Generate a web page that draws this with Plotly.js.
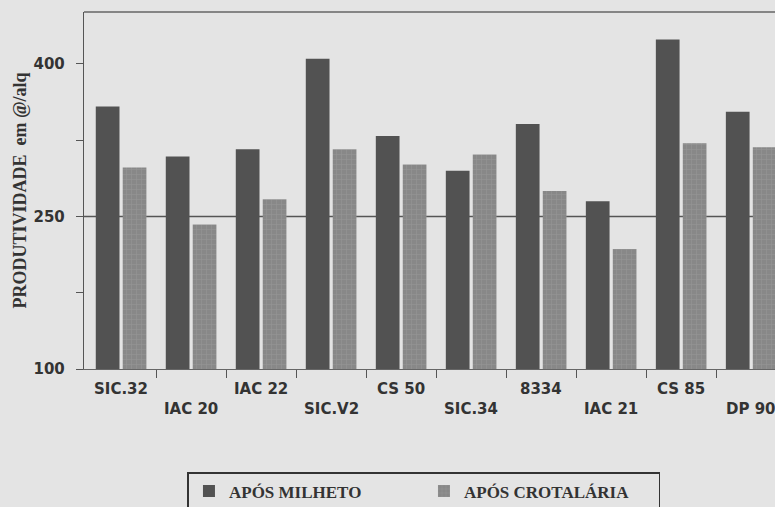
<!DOCTYPE html>
<html>
<head>
<meta charset="utf-8">
<script src="https://cdn.plot.ly/plotly-3.0.1.min.js"></script>
<style>html,body{margin:0;padding:0;background:#e4e4e4;}#chart{width:775px;height:507px;}</style>
</head>
<body>
<div id="chart"></div>
<script>
const categories = ["SIC.32","IAC 20","IAC 22","SIC.V2","CS 50","SIC.34","8334","IAC 21","CS 85","DP 90"];
const aposMilheto = [358, 309, 316, 405, 329, 295, 341, 265, 424, 353];
const aposCrotalaria = [298, 242, 267, 316, 301, 311, 275, 218, 322, 318];
const seriesNames = ["APÓS MILHETO", "APÓS CROTALÁRIA"];
const yTickVals = [100, 175, 250, 325, 400];
const yTickText = ["100", "", "250", "", "400"];
const referenceLine = 250;

const idx = categories.map((_, i) => i);

const traces = [
  {type: "bar", name: seriesNames[0], x: idx, y: aposMilheto,
   marker: {color: "#525252", line: {width: 0}}},
  {type: "bar", name: seriesNames[1], x: idx, y: aposCrotalaria,
   marker: {color: "#8a8a8a", line: {width: 0},
            pattern: {shape: "+", bgcolor: "#888888", fgcolor: "#969696", size: 5, solidity: 0.2}}}
];

const annotations = categories.map((c, i) => ({
  x: i, xref: "x", y: 0, yref: "paper",
  yshift: i % 2 === 0 ? -9 : -29, yanchor: "top", showarrow: false,
  text: c, font: {family: "DejaVu Sans", size: 15, color: "#333", weight: "bold"}
}));

const layout = {
  width: 775, height: 507,
  paper_bgcolor: "#e4e4e4", plot_bgcolor: "#e4e4e4",
  margin: {l: 84, r: 0, t: 12, b: 138},
  barmode: "group", bargap: 0.23, bargroupgap: 0.12,
  showlegend: true,
  legend: {orientation: "h", x: 0.492, xanchor: "center", yref: "container", y: 0.069, yanchor: "top",
           bordercolor: "#333", borderwidth: 1.5, bgcolor: "#e4e4e4",
           entrywidth: 190, itemwidth: 30,
           font: {family: "Liberation Serif", size: 17, color: "#333", weight: "bold"}},
  xaxis: {type: "linear", range: [-0.53, 9.34], tickvals: idx.map(i => i + 0.5),
          showticklabels: false, ticks: "outside", ticklen: 8, tickcolor: "#555",
          showline: true, linecolor: "#666", linewidth: 1.2, showgrid: false, zeroline: false},
  yaxis: {range: [100, 451], tickvals: yTickVals, ticktext: yTickText,
          ticks: "outside", ticklen: 7, tickcolor: "#555", ticklabelstandoff: 8,
          showline: true, linecolor: "#555", linewidth: 1.2, showgrid: false, zeroline: false,
          tickfont: {family: "DejaVu Sans", size: 15, color: "#333", weight: "bold"},
          title: {text: "PRODUTIVIDADE  em @/alq", standoff: 2,
                  font: {family: "Liberation Serif", size: 18, color: "#333", weight: "bold"}}},
  shapes: [
    {type: "line", xref: "paper", yref: "y", x0: 0, x1: 1, y0: referenceLine, y1: referenceLine,
     line: {color: "#555", width: 1.5}, layer: "below"},
    {type: "line", xref: "paper", yref: "paper", x0: 0, x1: 1, y0: 1, y1: 1,
     line: {color: "#666", width: 1.5}}
  ],
  annotations: annotations
};

Plotly.newPlot("chart", traces, layout, {displayModeBar: false, staticPlot: true});
</script>
</body>
</html>
